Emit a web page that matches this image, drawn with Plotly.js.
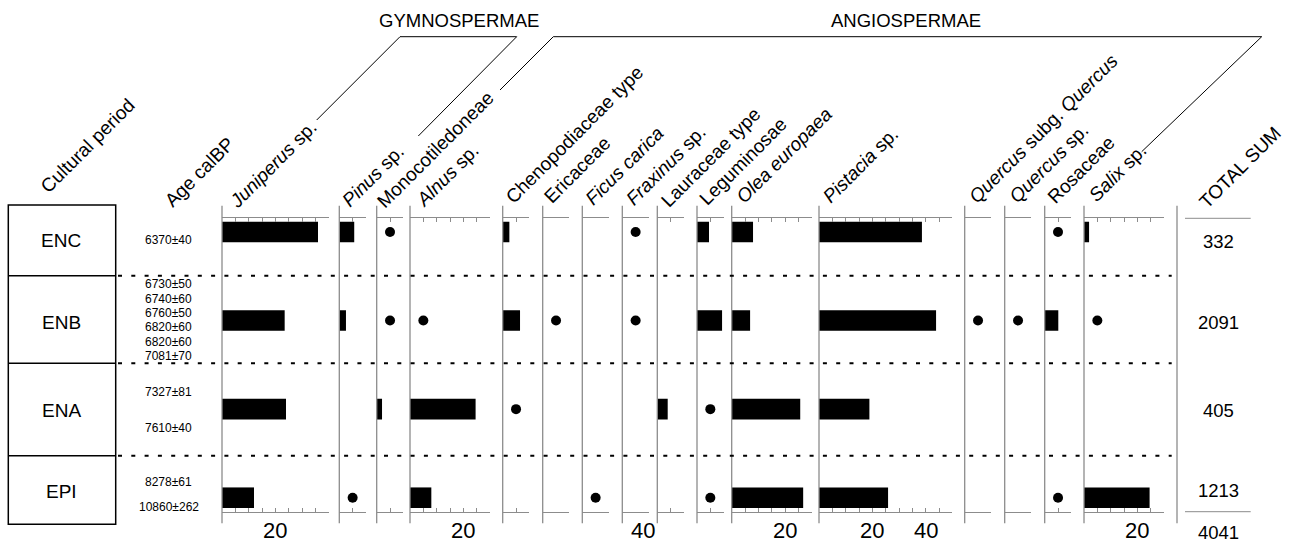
<!DOCTYPE html>
<html><head><meta charset="utf-8">
<script src="https://cdn.plot.ly/plotly-3.0.1.min.js"></script>
<style>html,body{margin:0;padding:0;background:#fff}#chart{width:1289px;height:544px}</style>
</head><body><div id="chart"></div>
<script>
// ---------------- DATA ----------------
const periods = ['ENC', 'ENB', 'ENA', 'EPI'];
const taxaLabels = [
  '<i>Juniperus</i> sp.', '<i>Pinus</i> sp.', 'Monocotiledoneae', '<i>Alnus</i> sp.',
  'Chenopodiaceae type', 'Ericaceae', '<i>Ficus carica</i>', '<i>Fraxinus</i> sp.',
  'Lauraceae type', 'Leguminosae', '<i>Olea europaea</i>', '<i>Pistacia</i> sp.',
  '<i>Quercus</i> subg. <i>Quercus</i>', '<i>Quercus</i> sp.', 'Rosaceae', '<i>Salix</i> sp.'
];
const scaleMax = [40, 10, 10, 30, 10, 10, 10, 10, 10, 10, 30, 50, 10, 10, 10, 30];
// percentages per period [ENC, ENB, ENA, EPI]; null = no bar
const juniperusPct   = [36, 23.5, 24, 12];
const pinusPct       = [5.6, 2.5, null, null];
const monocotPct     = [null, null, 2, null];
const alnusPct       = [null, null, 24.6, 8];
const chenopodPct    = [2.5, 6.5, null, null];
const ericaceaePct   = [null, null, null, null];
const ficusPct       = [null, null, null, null];
const fraxinusPct    = [null, null, null, null];
const lauraceaePct   = [null, null, 3.9, null];
const leguminosaePct = [4.5, 9.4, null, null];
const oleaPct        = [8, 6.9, 25.7, 26.8];
const pistaciaPct    = [38.6, 43.9, 18.9, 25.9];
const quercusSubgPct = [null, null, null, null];
const quercusSpPct   = [null, null, null, null];
const rosaceaePct    = [null, 5.1, null, null];
const salixPct       = [1.9, null, null, 24.6];
// presence dots (value = where the dot sits on the taxon scale)
const juniperusDot   = [null, null, null, null];
const pinusDot       = [null, null, null, 5];
const monocotDot     = [5, 5, null, null];
const alnusDot       = [null, 5, null, null];
const chenopodDot    = [null, null, 5, null];
const ericaceaeDot   = [null, 5, null, null];
const ficusDot       = [null, null, null, 5];
const fraxinusDot    = [5, 5, null, null];
const lauraceaeDot   = [null, null, null, null];
const leguminosaeDot = [null, null, 5, 5];
const oleaDot        = [null, null, null, null];
const pistaciaDot    = [null, null, null, null];
const quercusSubgDot = [null, 5, null, null];
const quercusSpDot   = [null, 5, null, null];
const rosaceaeDot    = [5, null, null, 5];
const salixDot       = [null, 5, null, null];
const agesENC = ['6370±40'];
const agesENB = ['6730±50', '6740±60', '6760±50', '6820±60', '6820±60', '7081±70'];
const agesENA = ['7327±81', '7610±40'];
const agesEPI = ['8278±61', '10860±262'];
const totals = [332, 2091, 405, 1213];
const grandTotal = 4041;
const bottomTickLabels = [[0, 20, '20'], [3, 20, '20'], [10, 20, '20'], [11, 20, '20'], [11, 40, '40'], [15, 20, '20']];

const barSeries = [juniperusPct, pinusPct, monocotPct, alnusPct, chenopodPct, ericaceaePct, ficusPct, fraxinusPct,
  lauraceaePct, leguminosaePct, oleaPct, pistaciaPct, quercusSubgPct, quercusSpPct, rosaceaePct, salixPct];
const dotSeries = [juniperusDot, pinusDot, monocotDot, alnusDot, chenopodDot, ericaceaeDot, ficusDot, fraxinusDot,
  lauraceaeDot, leguminosaeDot, oleaDot, pistaciaDot, quercusSubgDot, quercusSpDot, rosaceaeDot, salixDot];

// ---------------- LAYOUT GEOMETRY ----------------
const W = 1289, H = 544;
const px = x => x / W, py = y => 1 - y / H;
const PXPER = 2.6667;
const panelLeft = [222, 339.3, 376.7, 410, 502.7, 542.7, 582.3, 622.3, 657.3, 697, 731.7, 819, 964.7, 1004.7, 1044.7, 1084];
const labelStart = [[231.7, 208], [345, 206.7], [380, 208], [418.3, 206.7], [508.3, 203.3], [546.7, 203], [588.3, 205],
  [628.3, 205], [663.3, 206.7], [701.7, 205], [738.3, 203], [825, 203], [971.7, 203], [1011.7, 203], [1050, 203], [1091.7, 201.7]];
const yTop = 218.3, yBot = 511.7;
const GRAY = '#8c8c8c';
const FONT = 'Liberation Sans, Arial, sans-serif';
const OFFX = 8, OFFY = 5.5;

const traces = [], shapes = [], annotations = [];
const layout = {
  width: W, height: H, margin: {l: 0, r: 0, t: 0, b: 0}, showlegend: false,
  paper_bgcolor: '#fff', plot_bgcolor: 'rgba(0,0,0,0)',
  font: {family: FONT, color: '#000'},
  yaxis: {type: 'category', categoryarray: periods, range: [3.158, -0.1547],
    domain: [py(yBot), py(yTop)], visible: false, fixedrange: true, anchor: 'x'}
};

function rotLabel(text, sx, sy, size) {
  annotations.push({xref: 'paper', yref: 'paper', x: px(sx - OFFX), y: py(sy + OFFY), xanchor: 'left', yanchor: 'bottom',
    text: text, textangle: -45, showarrow: false, borderpad: 0, font: {size: size, family: FONT, color: '#000'}});
}
function txt(text, x, y, size, opts) {
  annotations.push(Object.assign({xref: 'paper', yref: 'paper', x: px(x), y: py(y), xanchor: 'center', yanchor: 'middle',
    text: text, showarrow: false, borderpad: 0, font: {size: size, family: FONT, color: '#000'}}, opts || {}));
}

taxaLabels.forEach((lab, i) => {
  const id = i === 0 ? '' : String(i + 1);
  const xa = 'x' + id;
  const L = panelLeft[i], R = L + scaleMax[i] * PXPER;
  const hasBar = barSeries[i].some(v => v != null);
  const tv = [];
  for (let v = 5; v <= scaleMax[i]; v += 5) tv.push(v);
  layout['xaxis' + id] = {
    domain: [px(L), px(R)], range: [0, scaleMax[i]], anchor: 'y',
    showline: true, linecolor: GRAY, linewidth: 1, mirror: hasBar ? 'ticks' : true,
    ticks: 'inside', ticklen: 4, tickwidth: 1, tickcolor: GRAY,
    tickmode: 'array', tickvals: hasBar ? tv : [scaleMax[i]], showticklabels: false,
    showgrid: false, zeroline: false, fixedrange: true
  };
  if (hasBar) traces.push({type: 'bar', orientation: 'h', x: barSeries[i], y: periods, xaxis: xa, yaxis: 'y',
    width: 0.232, marker: {color: '#000', line: {width: 0}}, hoverinfo: 'skip'});
  if (dotSeries[i].some(v => v != null)) traces.push({type: 'scatter', mode: 'markers', x: dotSeries[i], y: periods,
    xaxis: xa, yaxis: 'y', marker: {color: '#000', size: 10}, hoverinfo: 'skip', cliponaxis: false});
  shapes.push({type: 'line', xref: xa + ' domain', yref: 'paper', x0: 0, x1: 0, y0: py(523.3), y1: py(205.7),
    line: {color: GRAY, width: 1.3}});
  rotLabel(lab, labelStart[i][0], labelStart[i][1], 19);
});

// column headers
rotLabel('Cultural period', 43.3, 193, 19);
rotLabel('Age calBP', 166.7, 207, 19);
rotLabel('TOTAL SUM', 1201.7, 208.3, 19);
txt('GYMNOSPERMAE', 459, 21, 18.5);
txt('ANGIOSPERMAE', 906, 21, 18.5);

// group brackets
const bl = {color: '#000', width: 1};
shapes.push({type: 'path', xref: 'paper', yref: 'paper', line: bl,
  path: `M${px(316.7)},${py(120)} L${px(400)},${py(36.7)} L${px(516.7)},${py(36.7)} L${px(418.3)},${py(136)}`});
shapes.push({type: 'path', xref: 'paper', yref: 'paper', line: bl,
  path: `M${px(500)},${py(90)} L${px(553.3)},${py(36.7)} L${px(1261.7)},${py(36.7)} L${px(1141.7)},${py(151.7)}`});

// cultural period box
const boxY = [205, 275.7, 363.3, 455.7, 524.3];
shapes.push({type: 'rect', xref: 'paper', yref: 'paper', x0: px(8.3), x1: px(115.7), y0: py(boxY[4]), y1: py(boxY[0]),
  line: {color: '#000', width: 1.5}});
[1, 2, 3].forEach(k => {
  shapes.push({type: 'line', xref: 'paper', yref: 'paper', x0: px(8.3), x1: px(115.7), y0: py(boxY[k]), y1: py(boxY[k]),
    line: {color: '#000', width: 1.5}});
  shapes.push({type: 'line', xref: 'paper', yref: 'paper', x0: px(118), x1: px(1171.7), y0: py(boxY[k]), y1: py(boxY[k]),
    line: {color: '#000', width: 2, dash: '4px,9.3px'}});
});
const periodLabelY = [240.3, 322, 410, 491];
periods.forEach((p, k) => txt(p, 61, periodLabelY[k], 19));

// ages
const ageY = {ENC: [240], ENB: [284.3, 298.7, 313, 327.3, 341.7, 356], ENA: [391.7, 428.3], EPI: [481.7, 506.7]};
[[agesENC, 'ENC'], [agesENB, 'ENB'], [agesENA, 'ENA'], [agesEPI, 'EPI']].forEach(([arr, k]) => {
  arr.forEach((a, j) => txt(a, 168.5, ageY[k][j], 12));
});

// total sum column
shapes.push({type: 'line', xref: 'paper', yref: 'paper', x0: px(1177), x1: px(1177), y0: py(523.3), y1: py(205.7), line: {color: GRAY, width: 1.3}});
[yTop, yBot].forEach(y => shapes.push({type: 'line', xref: 'paper', yref: 'paper', x0: px(1185), x1: px(1250.7), y0: py(y), y1: py(y), line: {color: GRAY, width: 1}}));
const totalY = [241.7, 322.7, 410.7, 490];
totals.forEach((t, k) => txt(String(t), 1218, totalY[k], 18.5));
txt(String(grandTotal), 1218.3, 543.5, 18.5, {yanchor: 'bottom'});

// bottom scale numbers
const numFont = {size: 22, family: FONT, color: '#000'};
bottomTickLabels.forEach(([i, v, t]) => {
  const id = i === 0 ? '' : String(i + 1);
  annotations.push({xref: 'x' + id, yref: 'paper', x: v, y: py(543.5), xanchor: 'center', yanchor: 'bottom', text: t,
    showarrow: false, borderpad: 0, font: numFont});
});
// stray "40" under Fraxinus panel
annotations.push({xref: 'x8', yref: 'paper', x: 7.9, y: py(543.5), xanchor: 'center', yanchor: 'bottom', text: '40',
  showarrow: false, borderpad: 0, font: numFont});

layout.shapes = shapes;
layout.annotations = annotations;
Plotly.newPlot('chart', traces, layout, {staticPlot: true, displayModeBar: false});
</script></body></html>
